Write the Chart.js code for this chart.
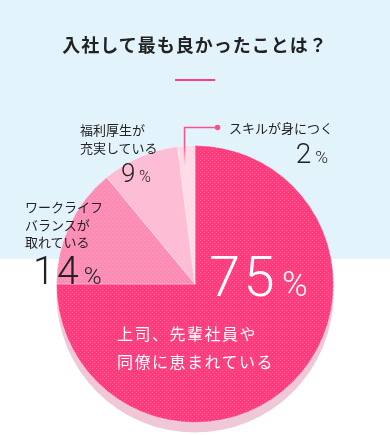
<!DOCTYPE html>
<html lang="ja">
<head>
<meta charset="utf-8">
<script src="https://cdn.jsdelivr.net/npm/chart.js@4"></script>
<style>
  html, body { margin: 0; padding: 0; }
  body { width: 390px; height: 435px; overflow: hidden; font-family: "Noto Sans CJK JP", sans-serif; color: #222; }
  #wrap { position: relative; width: 390px; height: 435px;
          background: linear-gradient(#e3f3fb 0, #e3f3fb 259px, #fff 259px, #fff 100%); }
  #wrap canvas { position: absolute; left: 0; top: 0; }
  .t { position: absolute; white-space: nowrap; }
  #title { left: 0; width: 390px; top: 32px; text-align: center; font-size: 18px; font-weight: bold; letter-spacing: 1px; line-height: 24px; }
  #bar { position: absolute; left: 175px; top: 79px; width: 40px; height: 2px; background: #ff3d7f; }
  .lbl { font-size: 13px; line-height: 17.5px; }
  .num { font-family: Roboto, "Noto Sans", sans-serif; font-weight: 300; line-height: 1; letter-spacing: 0.06em; }
  .num small { font-size: 0.62em; margin-left: 0.12em; letter-spacing: 0; }
  .white { color: #fff; }
  .big { font-size: 16px; line-height: 28px; letter-spacing: 1.5px; }
</style>
</head>
<body>
<div id="wrap">
  <canvas id="pieChart"></canvas>
  <div id="title" class="t">入社して最も良かったことは？</div>
  <div id="bar"></div>
  <div class="t lbl" style="left:229px; top:119px;">スキルが身につく</div>
  <div class="t num" style="right:62px; top:140px; font-size:28px;">2<small>%</small></div>
  <div class="t lbl" style="left:80px; top:121px;">福利厚生が<br>充実している</div>
  <div class="t num" style="left:121px; top:160px; font-size:26px;">9<small>%</small></div>
  <div class="t lbl" style="left:25px; top:198px;">ワークライフ<br>バランスが<br>取れている</div>
  <div class="t num" style="left:33px; top:252px; font-size:39px;">14<small>%</small></div>
  <div class="t num white" style="left:209px; top:249px; font-size:56px;">75<small>%</small></div>
  <div class="t big white" style="left:117px; top:319px;">上司、先輩社員や<br>同僚に恵まれている</div>
</div>

<script>
// ============================
// DATA
// ============================
const categories = ['上司、先輩社員や同僚に恵まれている', 'ワークライフバランスが取れている', '福利厚生が充実している', 'スキルが身につく'];
const shares = [75, 14, 9, 2];
const sliceColors = ['#ff3a7d', '#ff8ab3', '#ffbbd3', '#ffd9e6'];


// ============================
// DOT TEXTURE FOR SLICES
// ============================
function dotPattern(base) {
    const c = document.createElement('canvas');
    c.width = 4;
    c.height = 4;
    const g = c.getContext('2d');
    g.fillStyle = base;
    g.fillRect(0, 0, 4, 4);
    g.fillStyle = 'rgba(255, 255, 255, 0.2)';
    g.fillRect(0, 0, 1, 1);
    g.fillRect(2, 2, 1, 1);
    return g.createPattern(c, 'repeat');
}


// ============================
// PLUGINS: SHADOW + LEADER LINE
// ============================
const pieShadow = {
    id: 'pieShadow',
    beforeDatasetsDraw(chart) {
        const arc = chart.getDatasetMeta(0).data[0];
        const ctx = chart.ctx;
        ctx.save();
        ctx.fillStyle = '#f0c7d7';
        ctx.beginPath();
        ctx.arc(arc.x, arc.y + 10, arc.outerRadius, 0, Math.PI * 2);
        ctx.fill();
        ctx.restore();
    }
};

const leaderLine = {
    id: 'leaderLine',
    afterDatasetsDraw(chart) {
        const a = chart.getDatasetMeta(0).data[3];
        const mid = (a.startAngle + a.endAngle) / 2;
        const x0 = a.x + Math.cos(mid) * a.outerRadius * 0.86 - 3;
        const y0 = a.y + Math.sin(mid) * a.outerRadius * 0.86;
        const yElbow = a.y - a.outerRadius - 18;
        const xEnd = x0 + 33;
        const ctx = chart.ctx;
        ctx.save();
        const grad = ctx.createLinearGradient(0, y0, 0, yElbow);
        grad.addColorStop(0, 'rgba(255, 80, 140, 0)');
        grad.addColorStop(0.5, 'rgba(255, 80, 140, 1)');
        grad.addColorStop(1, 'rgba(255, 80, 140, 1)');
        ctx.strokeStyle = grad;
        ctx.lineWidth = 1.5;
        ctx.beginPath();
        ctx.moveTo(x0, y0);
        ctx.lineTo(x0, yElbow);
        ctx.lineTo(xEnd, yElbow);
        ctx.stroke();
        ctx.fillStyle = '#ff4f8b';
        ctx.beginPath();
        ctx.arc(xEnd, yElbow, 2.8, 0, Math.PI * 2);
        ctx.fill();
        ctx.restore();
    }
};


// ============================
// CHART
// ============================
const ctx = document.getElementById('pieChart');

new Chart(ctx, {
    type: 'pie',
    data: {
        labels: categories,
        datasets: [{
            data: shares,
            backgroundColor: sliceColors.map(dotPattern),
            borderColor: 'rgba(255, 255, 255, 0.35)',
            borderWidth: 1
        }]
    },
    options: {
        responsive: true,
        maintainAspectRatio: false,
        animation: false,
        events: [],
        layout: {
            padding: { top: 145, bottom: 12, left: 56, right: 56 }
        },
        plugins: {
            legend: { display: false },
            tooltip: { enabled: false }
        }
    },
    plugins: [pieShadow, leaderLine]
});
</script>
</body>
</html>
